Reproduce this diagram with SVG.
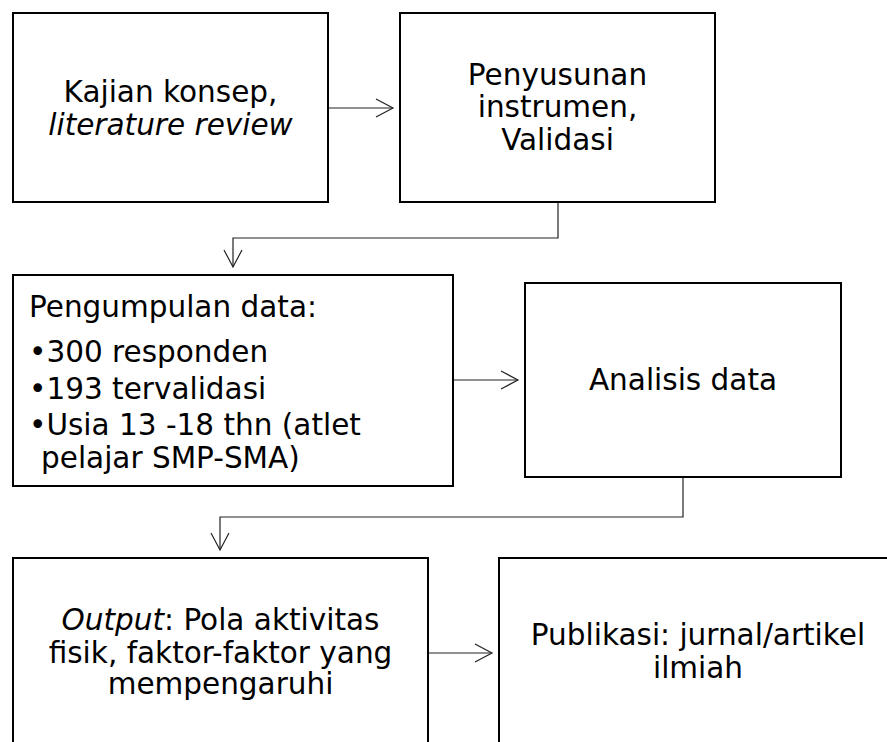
<svg xmlns="http://www.w3.org/2000/svg" width="887" height="742" viewBox="0 0 887 742">
<style>
.box{fill:#fff;stroke:#000;stroke-width:2}
.t{font-family:"DejaVu Sans",Verdana,sans-serif;font-size:29.5px;fill:#000}
.c{text-anchor:middle}
.conn{fill:none;stroke:#222;stroke-width:1.2}
</style>
<defs>
<marker id="arr" markerUnits="userSpaceOnUse" markerWidth="20" markerHeight="20" viewBox="-1 -1 20 20" refX="17" refY="9" orient="auto">
<path d="M0,0 L17,9 L0,18" fill="none" stroke="#222" stroke-width="1.2"/>
</marker>
</defs>
<rect width="887" height="742" fill="#fff"/>
<g id="connectors">
<path class="conn" d="M328,108 H393" marker-end="url(#arr)"/>
<path class="conn" d="M558,202 V238 H233 V267" marker-end="url(#arr)"/>
<path class="conn" d="M453,380 H518" marker-end="url(#arr)"/>
<path class="conn" d="M683,477 V517 H220 V550" marker-end="url(#arr)"/>
<path class="conn" d="M428,653 H492" marker-end="url(#arr)"/>
</g>
<g id="node1">
<rect class="box" x="13" y="13" width="315" height="189"/>
<text class="t c" x="170.5" y="101.5">Kajian konsep,</text>
<text class="t c" x="170.5" y="134.5" font-style="italic">literature review</text>
</g>
<g id="node2">
<rect class="box" x="400" y="13" width="315" height="189"/>
<text class="t c" x="557.5" y="85">Penyusunan</text>
<text class="t c" x="557.5" y="117">instrumen,</text>
<text class="t c" x="557.5" y="150">Validasi</text>
</g>
<g id="node3">
<rect class="box" x="13" y="275" width="440" height="211"/>
<text class="t" x="29" y="317">Pengumpulan data:</text>
<text class="t" x="29" y="361.5">•300 responden</text>
<text class="t" x="29" y="399">•193 tervalidasi</text>
<text class="t" x="29" y="435">•Usia 13 -18 thn (atlet</text>
<text class="t" x="41" y="468">pelajar SMP-SMA)</text>
</g>
<g id="node4">
<rect class="box" x="525" y="283" width="316" height="194"/>
<text class="t c" x="683" y="390">Analisis data</text>
</g>
<g id="node5">
<rect class="box" x="13" y="558" width="415" height="220"/>
<text class="t c" x="220.5" y="630"><tspan font-style="italic">Output</tspan>: Pola aktivitas</text>
<text class="t c" x="220.5" y="662.5">fisik, faktor-faktor yang</text>
<text class="t c" x="220.5" y="694">mempengaruhi</text>
</g>
<g id="node6">
<rect class="box" x="499" y="558" width="420" height="220"/>
<text class="t c" x="698" y="645">Publikasi: jurnal/artikel</text>
<text class="t c" x="698" y="678">ilmiah</text>
</g>
</svg>
